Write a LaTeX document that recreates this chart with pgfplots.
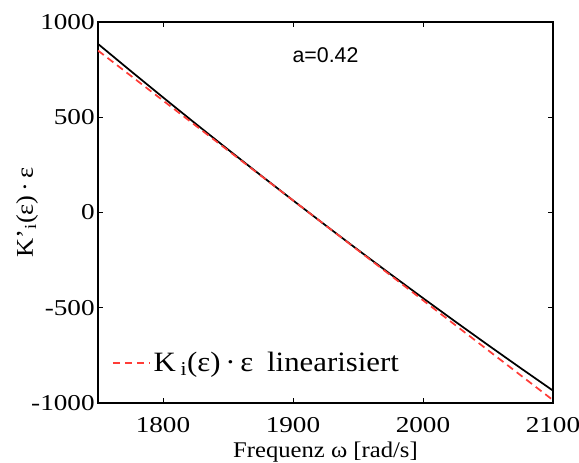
\documentclass[border=0pt]{standalone}
\usepackage{pgfplots}
\pgfplotsset{compat=1.18}
\usepackage{fontspec}
\setmainfont{Liberation Serif}[FakeStretch=1.1]
\newfontfamily\tickfont{Liberation Serif}[FakeStretch=1.2]
\newfontfamily\hv{Liberation Sans}
\definecolor{lred}{RGB}{255,60,55}
\begin{document}
\begin{tikzpicture}
\begin{axis}[
  name=ax, at={(0,0)}, anchor=south west,
  scale only axis,
  width=341.25pt, height=285.75pt,
  xmin=1750, xmax=2100, ymin=-1000, ymax=1000,
  xtick={1800,1900,2000,2100},
  ytick={-1000,-500,0,500,1000},
  tick align=inside,
  major tick length=3.5pt,
  tick pos=both,
  /pgf/number format/assume math mode=true,
  /pgf/number format/set thousands separator={},
  tick label style={font=\tickfont\fontsize{17}{18}\selectfont},
  xticklabel style={anchor=base, yshift=-22.3pt},
  yticklabel style={anchor=east, inner xsep=0pt, xshift=-2.3pt},
  label style={font=\fontsize{16.8}{18}\selectfont},
  xlabel={Frequenz ω [rad/s]},
  ylabel={K’\textsubscript{i}(ε)\,·\,ε},
  xlabel style={at={(axis description cs:0.5,-0.1286)}, anchor=center},
  ylabel style={at={(axis description cs:-0.156,0.5)}, anchor=center, font=\fontsize{18}{20}\selectfont},
  axis line style={line width=0.9pt},
  every tick/.style={black, line width=0.7pt},
  legend style={draw=none, fill=none, inner sep=0pt, at={(axis description cs:0.03,0.105)}, anchor=west, font=\fontsize{21}{23}\selectfont},
  legend image code/.code={\draw[#1] (0pt,0pt) -- (28pt,0pt);},
  legend cell align=left,
]
\addplot[black, line width=1.3pt, forget plot] coordinates {
(1750,885) (1775,743.8) (1800,604.4) (1825,466.6) (1850,330.7) (1875,196.3)
(1900,63.7) (1925,-67.2) (1950,-196.3) (1975,-323.7) (2000,-449.5)
(2025,-573.4) (2050,-695.7) (2075,-816.3) (2100,-935.1)};
\addplot[lred, line width=1.3pt, dash pattern=on 5.5pt off 3.5pt] coordinates {(1750,850) (2100,-985)};
\addlegendentry{K\,\textsubscript{i}(ε)\,·\,ε\enspace linearisiert}
\node[font=\hv\fontsize{16}{18}\selectfont] at (axis cs:1925,827) {a=0.42};
\end{axis}
\pgfresetboundingbox
\useasboundingbox (-73.5pt,-45pt) rectangle (360.75pt,302.25pt);
\end{tikzpicture}
\end{document}
